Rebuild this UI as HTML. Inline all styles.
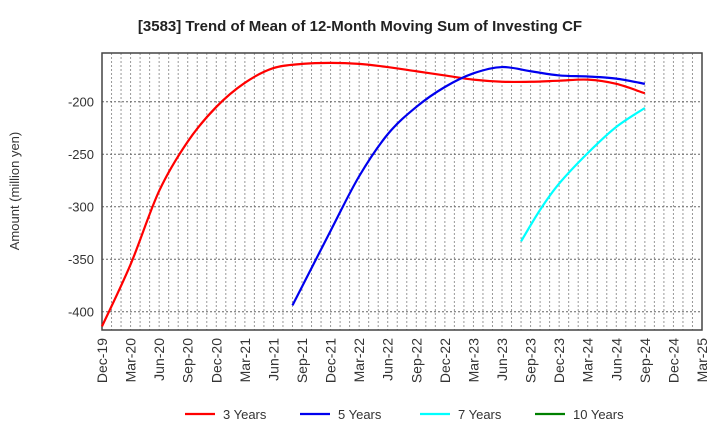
<!DOCTYPE html>
<html><head><meta charset="utf-8"><style>
body{margin:0;background:#fff;font-family:"Liberation Sans",Arial,sans-serif;}
</style></head><body>
<svg width="720" height="440" xmlns="http://www.w3.org/2000/svg" font-family="Liberation Sans, Arial, sans-serif">
<text x="360" y="31" text-anchor="middle" font-size="15" font-weight="bold" fill="#222">[3583]  Trend of Mean of 12-Month Moving Sum of Investing CF</text>
<text transform="translate(19,191) rotate(-90)" text-anchor="middle" font-size="13" fill="#333">Amount (million yen)</text>
<g id="grid"></g>
<g id="axes"></g>
<g id="series"></g>
<g id="legend"></g>
</svg>
<script>
const xLabels=["Dec-19","Mar-20","Jun-20","Sep-20","Dec-20","Mar-21","Jun-21","Sep-21","Dec-21","Mar-22","Jun-22","Sep-22","Dec-22","Mar-23","Jun-23","Sep-23","Dec-23","Mar-24","Jun-24","Sep-24","Dec-24","Mar-25"];
const yTicks=[-200,-250,-300,-350,-400];
const m3=[0,3,6,9,12,15,18,21,24,27,30,33,36,39,42,45,48,51,54,57];
const v3=[-414,-355,-285,-238,-205,-182,-168,-164,-163,-164,-167,-171,-175,-179,-181,-181,-180,-179,-183,-192];
const m5=[20,24,27,30,33,36,39,42,45,48,51,54,57];
const v5=[-394,-323,-271,-231,-205,-186,-173,-167,-171,-175,-176,-178,-183];
const m7=[44,46,48,51,54,57];
const v7=[-333,-303,-278,-249,-224,-206];
const m10=[];const v10=[];
const X0=102,X1=702,Y0=53,Y1=330,NM=63;
const xs=m=>X0+m*(X1-X0)/NM;
const ys=v=>101.7+(-200-v)*1.05;
const NS="http://www.w3.org/2000/svg";
function mk(t,a,p){const e=document.createElementNS(NS,t);for(const k in a)e.setAttribute(k,a[k]);p.appendChild(e);return e;}
const grid=document.getElementById('grid'),axes=document.getElementById('axes'),ser=document.getElementById('series'),leg=document.getElementById('legend');
for(let m=1;m<NM;m++){const l=mk('line',{x1:xs(m),x2:xs(m),y1:Y0,y2:Y1,stroke:'#999','stroke-dasharray':'2,2','stroke-width':1},grid);

}
yTicks.forEach(v=>{const l=mk('line',{x1:X0,x2:X1,y1:ys(v),y2:ys(v),stroke:'#666','stroke-dasharray':'2,2','stroke-width':1},grid);


const t=mk('text',{x:X0-8,y:ys(v)+5,'text-anchor':'end','font-size':13,fill:'#333'},axes);t.textContent=v;

});
const fr=mk('rect',{x:X0,y:Y0,width:X1-X0,height:Y1-Y0,fill:'none',stroke:'#444','stroke-width':1.5},axes);


xLabels.forEach((s,i)=>{const x=xs(i*3);const t=mk('text',{transform:`translate(${x+5},338) rotate(-90)`,'text-anchor':'end','font-size':14,fill:'#333'},axes);t.textContent=s;

});
function path(ms,vs){const p=ms.map((m,i)=>[xs(m),ys(vs[i])]);if(p.length<2)return '';let d=`M${p[0][0]},${p[0][1]}`;
for(let i=0;i<p.length-1;i++){const a=p[i-1]||p[i],b=p[i],c=p[i+1],e=p[i+2]||c;
d+=` C${b[0]+(c[0]-a[0])/6},${b[1]+(c[1]-a[1])/6} ${c[0]-(e[0]-b[0])/6},${c[1]-(e[1]-b[1])/6} ${c[0]},${c[1]}`;}return d;}
const S=[["3 Years",m3,v3,"#ff0000"],["5 Years",m5,v5,"#0000ee"],["7 Years",m7,v7,"#00ffff"],["10 Years",m10,v10,"#008000"]];
const lx=[185,300,420,535];
S.forEach((s,i)=>{const d=path(s[1],s[2]);if(d){const p=mk('path',{d:d,fill:'none',stroke:s[3],'stroke-width':2.2},ser);

}
const l=mk('line',{x1:lx[i],x2:lx[i]+30,y1:414,y2:414,stroke:s[3],'stroke-width':2.2},leg);


const t=mk('text',{x:lx[i]+38,y:419,'font-size':13,fill:'#333'},leg);t.textContent=s[0];

});
</script>
</body></html>
